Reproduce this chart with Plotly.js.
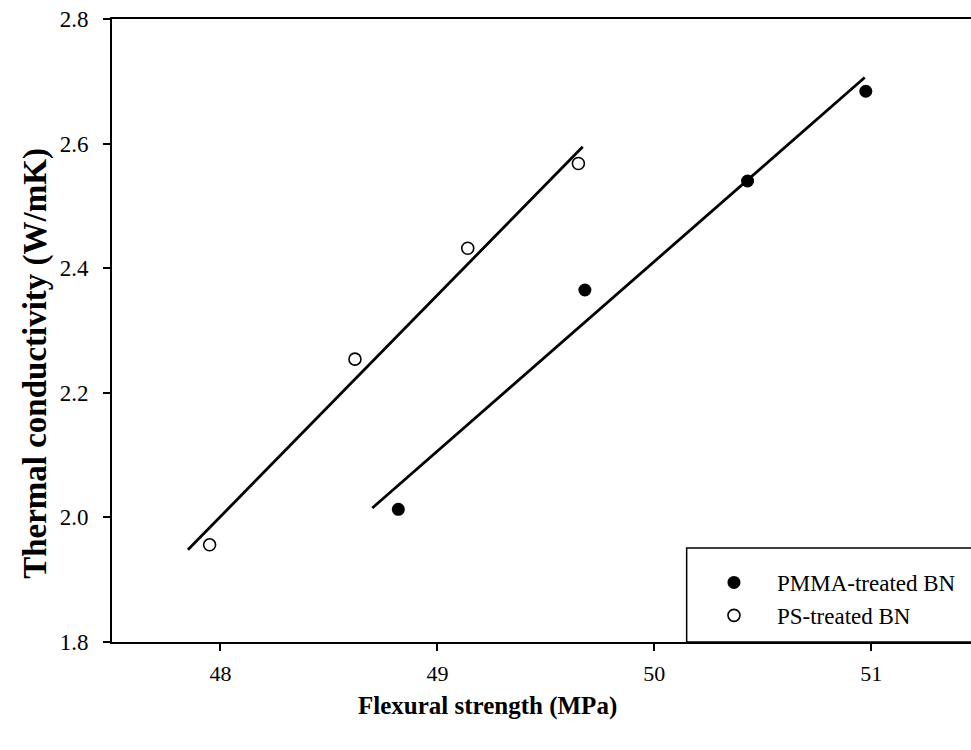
<!DOCTYPE html>
<html>
<head>
<meta charset="utf-8">
<script src="https://cdn.plot.ly/plotly-3.0.1.min.js"></script>
<style>html,body{margin:0;padding:0;background:#fff;}#chart{width:971px;height:750px;}</style>
</head>
<body>
<div id="chart"></div>
<script>
// Series
const seriesNames = ["PMMA-treated BN", "PS-treated BN"];
const pmmaX = [48.82, 49.68, 50.43, 50.975];
const pmmaY = [2.013, 2.365, 2.540, 2.684];
const psX = [47.95, 48.62, 49.14, 49.65];
const psY = [1.956, 2.254, 2.432, 2.568];
// Linear-fit line end points, as drawn in the reference
const pmmaFitX = [48.70, 50.97];
const pmmaFitY = [2.015, 2.706];
const psFitX = [47.85, 49.67];
const psFitY = [1.948, 2.595];
// Axis labels
const xTitle = "Flexural strength (MPa)";
const yTitle = "Thermal conductivity (W/mK)";
const xTicks = [48, 49, 50, 51];
const yTicks = [1.8, 2.0, 2.2, 2.4, 2.6, 2.8];

const serif = "'Liberation Serif', 'Times New Roman', serif";

const traces = [
  {x: psFitX, y: psFitY, mode: "lines", line: {color: "#000", width: 2.8}, showlegend: false, hoverinfo: "skip"},
  {x: pmmaFitX, y: pmmaFitY, mode: "lines", line: {color: "#000", width: 2.8}, showlegend: false, hoverinfo: "skip"},
  {x: pmmaX, y: pmmaY, mode: "markers", name: seriesNames[0],
   marker: {symbol: "circle", size: 13, color: "#000", line: {color: "#000", width: 0}}},
  {x: psX, y: psY, mode: "markers", name: seriesNames[1],
   marker: {symbol: "circle-open", size: 12, color: "#000", line: {color: "#000", width: 1.6}}}
];

const layout = {
  width: 971, height: 750,
  margin: {l: 112, r: 0, t: 19, b: 108, pad: 0},
  paper_bgcolor: "#fff", plot_bgcolor: "#fff",
  font: {family: serif, color: "#000", size: 22},
  showlegend: true,
  xaxis: {
    range: [47.5, 51.46], tickvals: xTicks, ticktext: xTicks.map(String),
    showgrid: false, zeroline: false,
    showline: true, linecolor: "#000", linewidth: 2, mirror: true,
    ticks: "outside", ticklen: 7, tickwidth: 2, tickcolor: "#000",
    ticklabelstandoff: 4,
    tickfont: {family: serif, size: 22, color: "#000"}
  },
  yaxis: {
    range: [1.8, 2.8], tickvals: yTicks, ticktext: yTicks.map(v => v.toFixed(1)),
    showgrid: false, zeroline: false,
    showline: true, linecolor: "#000", linewidth: 2,
    ticks: "outside", ticklen: 7, tickwidth: 2, tickcolor: "#000",
    ticklabelstandoff: 10,
    tickfont: {family: serif, size: 23, color: "#000"}
  },
  legend: {
    x: 0.674, xanchor: "left", y: 0.13, yanchor: "top",
    bgcolor: "rgba(0,0,0,0)", borderwidth: 0,
    itemwidth: 76, traceorder: "normal",
    font: {family: serif, size: 23, color: "#000"}
  },
  shapes: [
    {type: "rect", xref: "paper", yref: "paper", x0: 0.669, x1: 1.05, y0: 0, y1: 0.151,
     line: {color: "#000", width: 1.5}, fillcolor: "rgba(0,0,0,0)", layer: "above"}
  ],
  annotations: [
    {text: "<b>" + xTitle + "</b>", xref: "paper", yref: "paper", x: 0.4377, y: -0.102,
     xanchor: "center", yanchor: "middle", showarrow: false,
     font: {family: serif, size: 25, color: "#000"}},
    {text: "<b>" + yTitle + "</b>", xref: "paper", yref: "paper", x: -0.0885, y: 0.448,
     xanchor: "center", yanchor: "middle", showarrow: false, textangle: -90,
     font: {family: serif, size: 33, color: "#000"}}
  ]
};

Plotly.newPlot("chart", traces, layout, {displayModeBar: false, staticPlot: true});
</script>
</body>
</html>
